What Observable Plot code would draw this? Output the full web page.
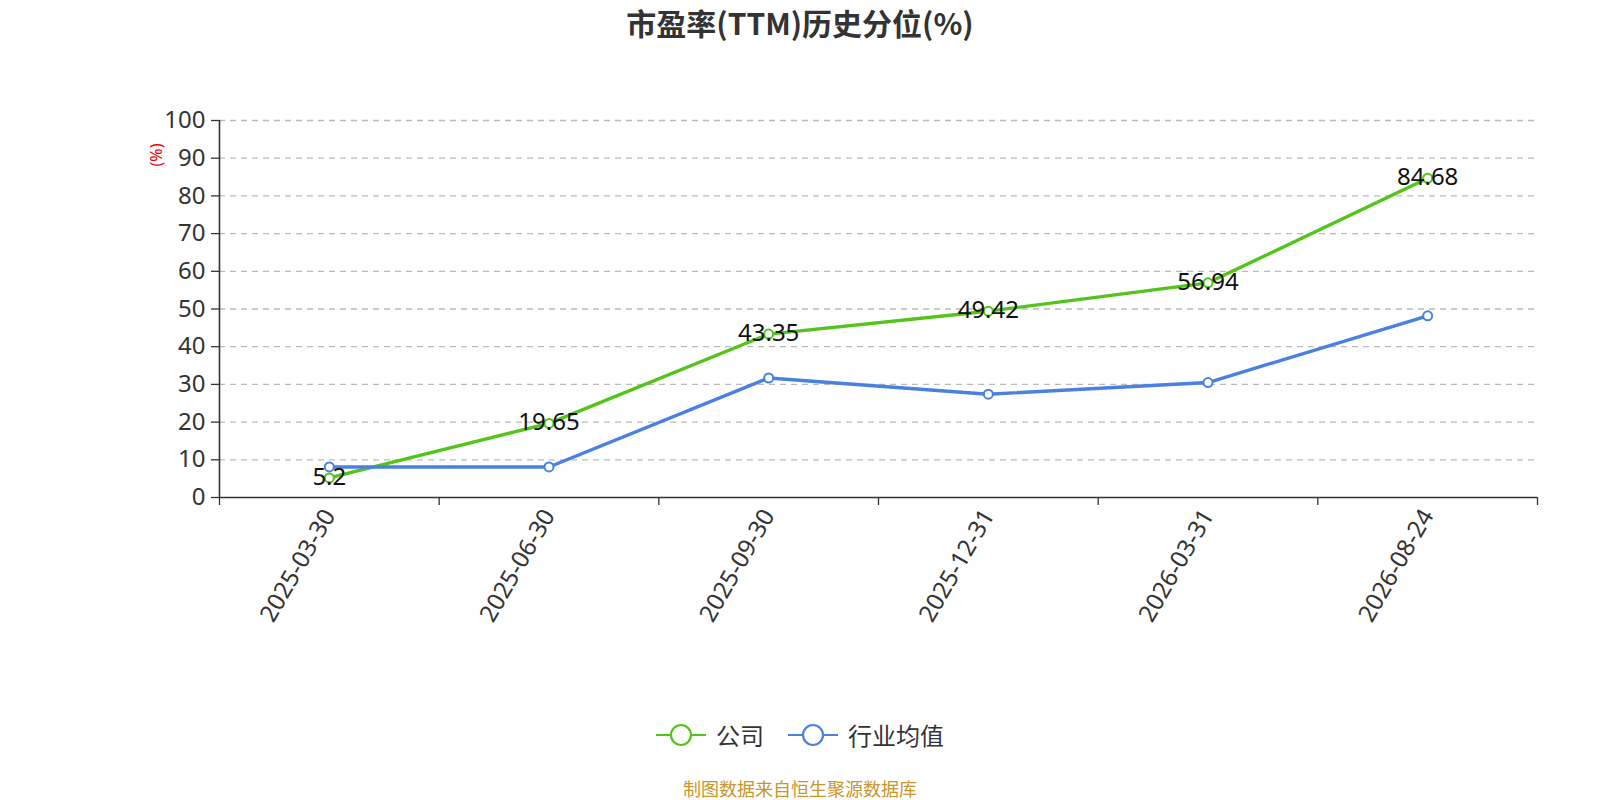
<!DOCTYPE html>
<html><head><meta charset="utf-8">
<script src="https://cdn.jsdelivr.net/npm/d3@7"></script>
<script src="https://cdn.jsdelivr.net/npm/@observablehq/plot@0.6"></script>
<style>
body{margin:0;background:#fff;font-family:"Noto Sans","Noto Sans CJK SC",sans-serif;}
#wrap{position:relative;width:1600px;height:800px;overflow:hidden;}
#title{position:absolute;left:0;width:1600px;top:2px;text-align:center;font-size:30px;font-weight:bold;color:#333;font-family:"Noto Sans CJK SC",sans-serif;line-height:40px;}
#ylab{position:absolute;left:145px;top:145px;color:#e00;font-size:16px;transform:rotate(-90deg);transform-origin:center;line-height:20px;}
#chart{position:absolute;left:0;top:0;}
#legend{position:absolute;left:0;width:1600px;top:718px;display:flex;justify-content:center;gap:24px;font-size:24px;color:#333;font-family:"Noto Sans CJK SC",sans-serif;line-height:34px;}
.item{display:flex;align-items:center;gap:10px;}
#caption{position:absolute;left:0;width:1600px;top:776px;text-align:center;font-size:18px;color:#c8962c;font-family:"Noto Sans CJK SC",sans-serif;line-height:24px;}
</style></head>
<body><div id="wrap">
<div id="title">市盈率(TTM)历史分位(%)</div>
<div id="chart"></div>
<div id="ylab">(%)</div>
<div id="legend"></div>
<div id="caption">制图数据来自恒生聚源数据库</div>
</div>
<script>
const dates = ["2025-03-30","2025-06-30","2025-09-30","2025-12-31","2026-03-31","2026-08-24"];
const companyValues = [5.2,19.65,43.35,49.42,56.94,84.68];
const industryValues = [8.1,8.1,31.7,27.4,30.5,48.2];
const yTicks = [0,10,20,30,40,50,60,70,80,90,100];
const seriesNames = ["公司","行业均值"];
const seriesColors = ["#52c41a","#4a80e0"];

const company = dates.map((d,i)=>({i, date:d, v:companyValues[i]}));
const industry = dates.map((d,i)=>({i, date:d, v:industryValues[i]}));
const idx = dates.map((d,i)=>i);
const bounds = d3.range(dates.length+1).map(i=>i-0.5);

const chart = Plot.plot({
  width:1600, height:700,
  marginLeft:219, marginRight:63, marginTop:120, marginBottom:203,
  x:{domain:[-0.5, dates.length-0.5], axis:null},
  y:{domain:[0,100], axis:null},
  style:{fontFamily:"'Noto Sans','Noto Sans CJK SC',sans-serif", background:"transparent"},
  marks:[
    Plot.gridY(yTicks.slice(1),{stroke:"#bbb", strokeOpacity:1, strokeDasharray:"6,5", strokeWidth:1.3}),
    Plot.axisY(yTicks,{tickSize:8, fontSize:24, color:"#333", tickPadding:6, label:null, strokeWidth:1.3}),
    Plot.ruleX([-0.5],{stroke:"#333", strokeWidth:1.6}),
    Plot.ruleY([0],{stroke:"#333", strokeWidth:1.6}),
    Plot.axisX(bounds,{tickSize:8, tickFormat:()=>"", color:"#333", label:null, strokeWidth:1.3}),
    Plot.axisX(idx,{tickSize:0, tickFormat:i=>dates[i], tickRotate:-60, fontSize:24, color:"#333", tickPadding:14, label:null}),
    Plot.line(company,{x:"i", y:"v", stroke:seriesColors[0], strokeWidth:3.4}),
    Plot.line(industry,{x:"i", y:"v", stroke:seriesColors[1], strokeWidth:3.4}),
    Plot.dot(industry,{x:"i", y:"v", r:4.5, fill:"#fff", stroke:seriesColors[1], strokeWidth:2}),
    Plot.dot(company,{x:"i", y:"v", r:4.5, fill:"#fff", stroke:seriesColors[0], strokeWidth:2}),
    Plot.text(company,{x:"i", y:"v", text:d=>String(d.v), fontSize:24, fill:"#111", dy:-1})
  ]
});
document.getElementById("chart").appendChild(chart);

const legend = document.getElementById("legend");
seriesNames.forEach((n,k)=>{
  const el = document.createElement("div"); el.className="item";
  el.innerHTML = `<svg width="50" height="26"><line x1="0" y1="13" x2="50" y2="13" stroke="${seriesColors[k]}" stroke-width="2"/><circle cx="25" cy="13" r="10" fill="#fff" stroke="${seriesColors[k]}" stroke-width="2.2"/></svg><span>${n}</span>`;
  legend.appendChild(el);
});
</script>
</body></html>
